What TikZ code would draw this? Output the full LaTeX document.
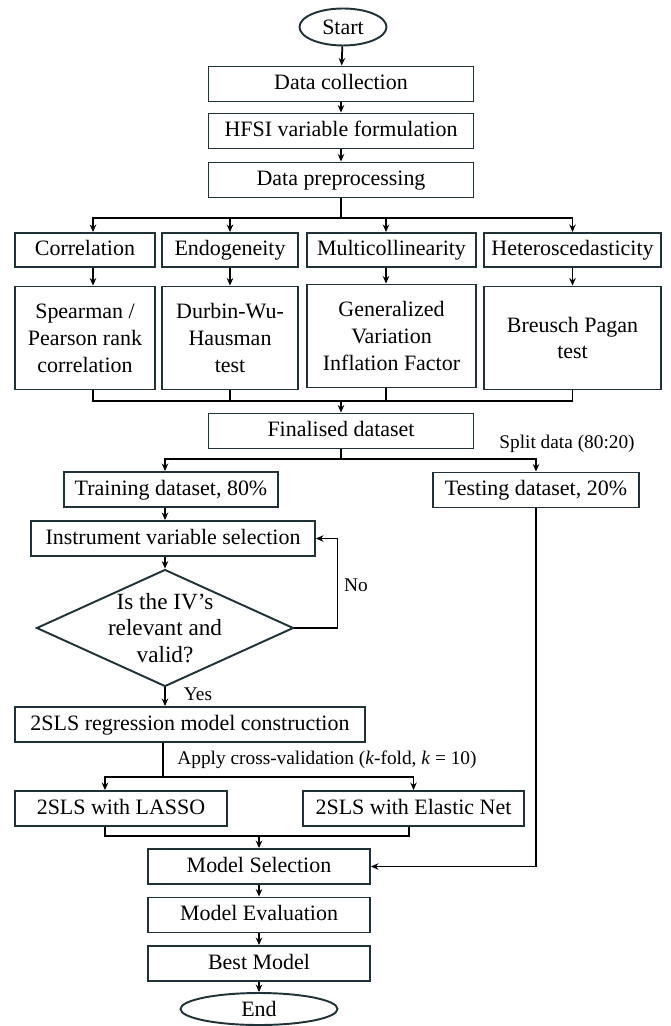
\documentclass[tikz,border=0pt]{standalone}
\usepackage{fontspec}
\setmainfont{Liberation Serif}
\usetikzlibrary{positioning,arrows.meta,shapes.geometric,calc}
\definecolor{slate}{RGB}{30,50,56}

\begin{document}
\begin{tikzpicture}[
  x=0.02cm, y=-0.02cm,
  font=\fontsize{12.5}{15.3}\selectfont,
  stage/.style={draw=slate, line width=1.1pt, fill=white, align=center,
                inner sep=2pt, minimum height=0.7cm, text height=1.9ex, text depth=0.5ex},
  tall/.style={draw=slate, line width=1.1pt, fill=white, align=center,
               inner sep=2pt, minimum height=2.06cm},
  term/.style={draw=slate, line width=1.1pt, ellipse, inner sep=0pt},
  ask/.style={draw=slate, line width=1.1pt, diamond, aspect=2.2, align=center, inner sep=-3pt,
              minimum width=5.14cm, minimum height=2.34cm, font=\fontsize{13.2}{15.3}\selectfont},
  ar/.style={-{Stealth[length=1.5mm,width=1.3mm]}, draw=black, line width=1pt},
  ln/.style={draw=black, line width=1pt},
  lbl/.style={inner sep=0pt, font=\fontsize{11}{13}\selectfont},
]
\useasboundingbox (0,0) rectangle (671,1026);

\node[term, minimum width=1.74cm, minimum height=0.74cm] (start) at (343,27) {Start};

\node[stage, minimum width=5.3cm] (coll) at (341,84)  {Data collection};
\node[stage, minimum width=5.3cm] (hfsi) at (341,131) {HFSI variable formulation};
\node[stage, minimum width=5.3cm] (prep) at (341,180) {Data preprocessing};

\node[stage, minimum width=2.8cm,  minimum height=0.68cm] (cor)   at (85,250)    {Correlation};
\node[stage, minimum width=2.72cm, minimum height=0.68cm] (endo)  at (230,250)   {Endogeneity};
\node[stage, minimum width=3.38cm, minimum height=0.68cm] (multi) at (391.5,250) {Multicollinearity};
\node[stage, minimum width=3.54cm, minimum height=0.68cm] (het)   at (572.5,250) {Heteroscedasticity};

\node[tall, minimum width=2.8cm]  (spear) at (85,338)    {Spearman /\\Pearson rank\\correlation};
\node[tall, minimum width=2.72cm] (dwh)   at (230,338)   {Durbin-Wu-\\Hausman\\test};
\node[tall, minimum width=3.38cm] (gvif)  at (391.5,336) {Generalized\\Variation\\Inflation Factor};
\node[tall, minimum width=3.54cm] (bp)    at (572.5,338) {Breusch Pagan\\test};

\node[stage, minimum width=5.3cm] (fin) at (341,431) {Finalised dataset};
\node[lbl] (split) at (567,444) {Split data (80:20)};

\node[stage, minimum width=4.28cm] (train) at (171,489.5) {Training dataset, 80\%};
\node[stage, minimum width=4.12cm] (test)  at (536,490)   {Testing dataset, 20\%};

\node[stage, minimum width=5.68cm] (inst) at (173,538.5) {Instrument variable selection};
\node[ask] (valid) at (165,628) {Is the IV's\\relevant and\\valid?};
\node[lbl] (yes) at (198,694) {Yes};
\node[lbl] (no)  at (356,585) {No};

\node[stage, minimum width=7cm] (reg) at (190,724.5) {2SLS regression model construction};
\node[lbl] (cv) at (327,760) {Apply cross-validation (\textit{k}-fold, \textit{k} = 10)};

\node[stage, minimum width=4.24cm] (lasso) at (121,808.5)   {2SLS with LASSO};
\node[stage, minimum width=4.42cm] (enet)  at (413.5,808.5) {2SLS with Elastic Net};

\node[stage, minimum width=4.44cm] (msel)  at (259,866.5) {Model Selection};
\node[stage, minimum width=4.44cm] (meval) at (259,915)   {Model Evaluation};
\node[stage, minimum width=4.44cm] (best)  at (259,963.5) {Best Model};
\node[term, minimum width=3.14cm, minimum height=0.64cm] (end) at (259,1009) {End};

\coordinate (fork1) at (341,218);
\coordinate (join1) at (341,401);
\coordinate (fork2) at (341,459);
\coordinate (fork3) at (163,777);
\coordinate (join2) at (259,836);
\coordinate (cx) at (93,0);
\coordinate (mx) at (386,0);
\coordinate (tx) at (165,0);
\coordinate (lx) at (105,0);
\coordinate (ex) at (409,0);

\draw[ar] (start) -- (coll);
\draw[ar] (coll) -- (hfsi);
\draw[ar] (hfsi) -- (prep);

\draw[ln] (prep) -- (fork1);
\draw[ar] (fork1) -| (cor.north -| cx);
\draw[ar] (fork1) -| (endo);
\draw[ar] (fork1) -| (multi.north -| mx);
\draw[ar] (fork1) -| (het);

\draw[ar] (cor.south -| cx) -- (spear.north -| cx);
\draw[ar] (endo) -- (dwh);
\draw[ar] (multi.south -| mx) -- (gvif.north -| mx);
\draw[ar] (het) -- (bp);

\draw[ln] (spear.south -| cx) |- (join1);
\draw[ln] (dwh) |- (join1);
\draw[ln] (gvif.south -| mx) |- (join1);
\draw[ln] (bp) |- (join1);
\draw[ar] (join1) -- (fin);

\draw[ln] (fin) -- (fork2);
\draw[ar] (fork2) -| (train.north -| tx);
\draw[ar] (fork2) -| (test);

\draw[ar] (train.south -| tx) -- (inst.north -| tx);
\draw[ar] (inst.south -| tx) -- (valid.north);
\draw[ar] (valid.east) -- ++(43,0) |- (inst.east);
\draw[ar] (valid.south) -- (reg.north -| tx);

\draw[ln] (fork3 |- reg.south) -- (fork3);
\draw[ar] (fork3) -| (lasso.north -| lx);
\draw[ar] (fork3) -| (enet);

\draw[ln] (lasso.south -| lx) |- (join2);
\draw[ln] (enet.south -| ex) |- (join2);
\draw[ar] (join2) -- (msel);
\draw[ar] (test) |- (msel);

\draw[ar] (msel) -- (meval);
\draw[ar] (meval) -- (best);
\draw[ar] (best) -- (end);

\end{tikzpicture}
\end{document}
